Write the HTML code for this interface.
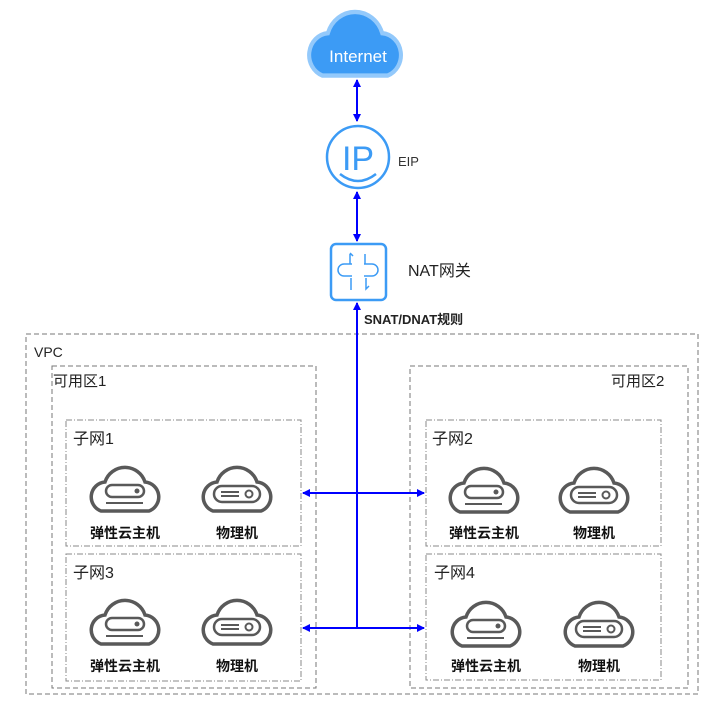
<!DOCTYPE html>
<html><head><meta charset="utf-8"><style>
html,body{margin:0;padding:0;background:#fff}
svg{display:block}
text{font-family:"Liberation Sans","Noto Sans CJK SC",sans-serif}
</style></head><body>
<svg width="726" height="708" viewBox="0 0 726 708" xmlns="http://www.w3.org/2000/svg">
<defs>
<marker id="ah" markerWidth="8" markerHeight="8" refX="7" refY="4" orient="auto-start-reverse" markerUnits="userSpaceOnUse"><path d="M0,0 L8,4 L0,8 Z" fill="#0000ff"/></marker>
<g id="cloudOut"><path d="M15,49 H63 A15,15 0 0 0 59,20 A21,21 0 0 0 19,20 A15,15 0 0 0 15,49 Z" fill="#fff" stroke="#595959" stroke-width="3.5"/></g>
<g id="vm"><use href="#cloudOut"/><rect x="20" y="23" width="38" height="12" rx="6" fill="none" stroke="#595959" stroke-width="2.5"/><circle cx="51" cy="29" r="2.5" fill="#595959"/><line x1="20" y1="41" x2="57" y2="41" stroke="#595959" stroke-width="2"/></g>
<g id="pm"><use href="#cloudOut"/><rect x="16" y="24" width="46" height="16" rx="8" fill="none" stroke="#595959" stroke-width="2.5"/><line x1="23" y1="30" x2="41" y2="30" stroke="#595959" stroke-width="2"/><line x1="23" y1="34" x2="41" y2="34" stroke="#595959" stroke-width="2"/><circle cx="51" cy="32" r="3.5" fill="none" stroke="#595959" stroke-width="2"/></g>
</defs>

<!-- Internet cloud -->
<g transform="translate(302,4) scale(1.36,1.46)">
<path d="M15,49 H63 A15,15 0 0 0 59,20 A21,21 0 0 0 19,20 A15,15 0 0 0 15,49 Z" fill="#3c9bf5" stroke="#93c9fb" stroke-width="3"/>
</g>
<text x="358" y="62" font-size="17" fill="#fff" text-anchor="middle">Internet</text>

<line x1="357" y1="80" x2="357" y2="121" stroke="#0000ff" stroke-width="2" marker-start="url(#ah)" marker-end="url(#ah)"/>
<circle cx="358" cy="157" r="31" fill="#fff" stroke="#3c9bf5" stroke-width="2.5"/>
<text x="358" y="170" font-size="34" fill="#3c9bf5" text-anchor="middle">IP</text>
<path d="M340,174 Q358,188 376,174" fill="none" stroke="#3c9bf5" stroke-width="2.5"/>
<text x="398" y="166" font-size="13" fill="#333">EIP</text>
<line x1="357" y1="192" x2="357" y2="241" stroke="#0000ff" stroke-width="2" marker-start="url(#ah)" marker-end="url(#ah)"/>

<rect x="331" y="244" width="55" height="56" rx="5" fill="#fff" stroke="#3c9bf5" stroke-width="2.5"/>
<g fill="none" stroke="#3c9bf5" stroke-width="1.5">
<path d="M350,254 V264 M353,256 l-3,-3 M365,254 V264"/>
<path d="M352,264 H344 a6,6 0 0 0 0,12 H352 M364,264 H372 a6,6 0 0 1 0,12 H364"/>
<path d="M351,278 V290 M366,278 V289 l3,-3"/>
</g>
<text x="408" y="276" font-size="16" fill="#222">NAT网关</text>
<text x="364" y="324" font-size="13" font-weight="bold" fill="#222">SNAT/DNAT规则</text>

<rect x="26" y="334" width="672" height="360" fill="none" stroke="#777" stroke-width="1" stroke-dasharray="5,3"/>
<text x="34" y="357" font-size="14" fill="#222">VPC</text>
<rect x="52" y="366" width="264" height="322" fill="none" stroke="#777" stroke-width="1" stroke-dasharray="5,3"/>
<text x="53" y="386" font-size="15" fill="#222">可用区1</text>
<rect x="410" y="366" width="278" height="322" fill="none" stroke="#777" stroke-width="1" stroke-dasharray="5,3"/>
<text x="611" y="386" font-size="15" fill="#222">可用区2</text>

<g fill="none" stroke="#888" stroke-width="1" stroke-dasharray="6,2,1,2">
<rect x="66" y="420" width="235" height="126"/>
<rect x="66" y="554" width="235" height="127"/>
<rect x="426" y="420" width="235" height="126"/>
<rect x="426" y="554" width="235" height="126"/>
</g>
<text x="73" y="444" font-size="16" fill="#222">子网1</text>
<text x="73" y="578" font-size="16" fill="#222">子网3</text>
<text x="432" y="444" font-size="16" fill="#222">子网2</text>
<text x="434" y="578" font-size="16" fill="#222">子网4</text>

<use href="#vm" x="86" y="462"/>
<use href="#pm" x="198" y="462"/>
<use href="#vm" x="445" y="463"/>
<use href="#pm" x="555" y="463"/>
<use href="#vm" x="86" y="595"/>
<use href="#pm" x="198" y="595"/>
<use href="#vm" x="447" y="597"/>
<use href="#pm" x="560" y="597"/>
<g font-size="14" font-weight="bold" fill="#111" text-anchor="middle">
<text x="125" y="538">弹性云主机</text><text x="237" y="538">物理机</text>
<text x="484" y="538">弹性云主机</text><text x="594" y="538">物理机</text>
<text x="125" y="671">弹性云主机</text><text x="237" y="671">物理机</text>
<text x="486" y="671">弹性云主机</text><text x="599" y="671">物理机</text>
</g>

<line x1="357" y1="303" x2="357" y2="628" stroke="#0000ff" stroke-width="2" marker-start="url(#ah)"/>
<line x1="303" y1="493" x2="424" y2="493" stroke="#0000ff" stroke-width="2" marker-start="url(#ah)" marker-end="url(#ah)"/>
<line x1="303" y1="628" x2="424" y2="628" stroke="#0000ff" stroke-width="2" marker-start="url(#ah)" marker-end="url(#ah)"/>
</svg>
</body></html>
